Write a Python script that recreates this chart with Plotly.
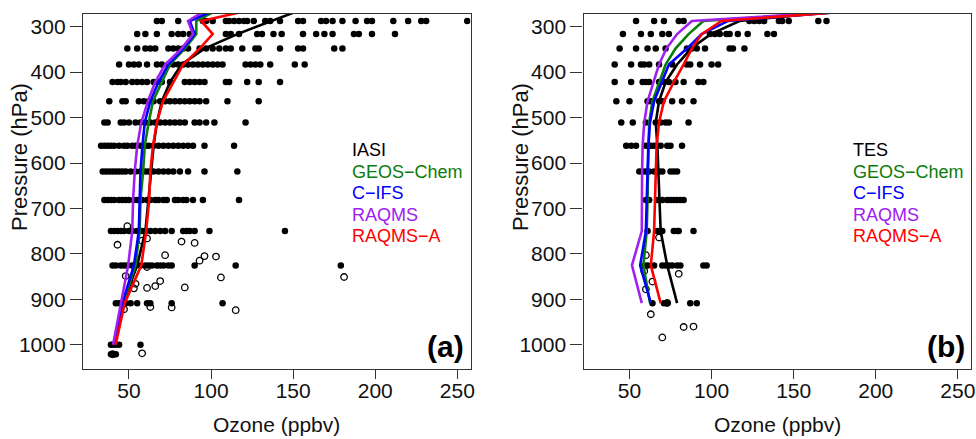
import plotly.graph_objects as go

W, H = 976, 439
FONT = "Liberation Sans, Arial, Helvetica, sans-serif"

# ---------------- data ----------------
# retrieval pressure levels (hPa)
levels = [287.3, 316.2, 348.1, 383.1, 421.7, 464.2, 510.9, 562.3, 618.9, 681.3, 749.9, 825.4, 908.5, 1000.0]
model_levels_a = [261.0] + levels
model_levels_b = [261.0] + levels[:-1]
xticks = [50, 100, 150, 200, 250]
yticks = [300, 400, 500, 600, 700, 800, 900, 1000]

# ---- panel (a): IASI ozone (ppbv) at each level ----
iasi_287 = [67, 70, 80, 95, 97, 101, 109, 111, 114, 117, 120, 122, 126, 133, 136, 142, 153, 156, 167, 170, 174, 180, 188, 195, 198, 211, 220, 228, 231, 256]
iasi_316 = [55, 60, 67, 76, 80, 83, 87, 109, 112, 117, 128, 131, 138, 143, 156, 164, 169, 174, 187, 190, 198, 212]
iasi_348 = [49, 55, 60, 63, 66, 74, 77, 80, 83, 86, 93, 97, 101, 105, 109, 112, 119, 127, 129, 142, 153, 156, 175, 180]
iasi_383 = [44, 50, 53, 56, 61, 67, 70, 74, 77, 80, 83, 86, 89, 92, 95, 98, 101, 104, 107, 121, 124, 127, 130, 136, 151, 157]
iasi_422 = [40, 43, 45, 48, 52, 55, 58, 61, 65, 67, 70, 75, 84, 87, 90, 93, 96, 109, 111, 122, 129, 142]
iasi_464 = [38, 46, 48, 56, 59, 62, 65, 69, 72, 75, 78, 81, 84, 87, 90, 93, 97, 110, 129]
iasi_511 = [35, 37, 45, 47, 50, 54, 57, 60, 63, 66, 69, 72, 75, 78, 81, 84, 90, 93, 97, 102, 121]
iasi_562 = [33, 35, 37, 39, 41, 44, 47, 49, 52, 54, 57, 60, 62, 65, 68, 71, 74, 77, 80, 83, 86, 89, 96, 114]
iasi_619 = [34, 36, 38, 40, 42, 44, 46, 48, 51, 54, 57, 60, 62, 65, 68, 71, 74, 77, 81, 86, 96, 116]
iasi_681 = [35, 37, 39, 41, 44, 46, 48, 50, 53, 55, 58, 61, 63, 66, 68, 71, 73, 78, 80, 83, 85, 89, 95, 117]
iasi_750 = [39, 41, 43, 45, 47, 50, 52, 55, 58, 60, 63, 66, 69, 72, 76, 83, 85, 87, 90, 99, 145]
iasi_825 = [40, 42, 45, 47, 49, 52, 54, 57, 60, 62, 64, 67, 69, 71, 74, 76, 90, 115, 179]
iasi_909 = [42, 44, 46, 48, 51, 55, 61, 63, 76, 107]
iasi_1000 = [39, 40, 42, 44, 57]
iasi_1021 = [39, 41, 42]
# surface-level retrievals (open circles)
iasi_sfc_o3 = [49, 43, 58, 61, 82, 90, 72, 96, 93, 103, 61, 48, 54, 53, 61, 66, 69, 84, 106, 181, 47, 63, 76, 115, 58, 40]
iasi_sfc_p = [739, 780, 771, 766, 773, 776, 803, 805, 815, 806, 829, 849, 866, 876, 875, 871, 860, 874, 852, 851, 922, 917, 918, 924, 1019, 1021]

# model / mean profiles, panel (a)
a_iasi = [156, 137, 116, 96, 82, 75, 70, 67, 65, 63.5, 62, 60, 55, 46.5, 41.5]
a_geos = [105, 91, 91, 84, 75, 70, 64.6, 62, 59.6, 58.6, 57, 56.5, 54, 46.4, 41.3]
a_cifs = [104, 87, 90, 83, 74, 68, 63, 59.6, 58.2, 57, 56.5, 56, 53, 46, 41.3]
a_raqms = [98, 86, 89, 82, 72, 66, 61.5, 57.5, 55, 53.5, 52.5, 52, 49.5, 45, 40.3]
a_raqmsa = [127, 94, 101, 93, 83, 77, 70.7, 67, 64.6, 63, 62.3, 60.5, 57.5, 47.4, 41.9]

# ---- panel (b): TES ozone (ppbv) at each level ----
tes_287 = [54, 65, 71, 80, 83, 123, 126, 129, 132, 141, 143, 147, 165, 170]
tes_316 = [46, 57, 63, 70, 74, 99, 102, 105, 109, 111, 116, 122, 134, 138]
tes_348 = [44, 54, 61, 66, 72, 85, 88, 91, 96, 111, 113, 120]
tes_383 = [41, 51, 57, 59, 62, 68, 76, 85, 87, 93, 100, 104]
tes_422 = [41, 51, 58, 60, 62, 68, 71, 74, 78, 83, 92, 95]
tes_464 = [42, 50, 61, 63, 68, 70, 76, 82, 89]
tes_511 = [45, 52, 60, 66, 69, 72, 74, 86]
tes_562 = [48, 51, 54, 60, 63, 65, 69, 73, 75, 82]
tes_619 = [56, 58, 60, 62, 65, 68, 70, 75, 77, 79]
tes_681 = [60, 62, 67, 70, 73, 75, 77, 79, 81, 83]
tes_750 = [61, 67, 69, 70, 77, 79, 80, 89]
tes_825 = [59, 61, 65, 70, 72, 74, 76, 79, 81, 95, 97]
tes_909 = [64, 71, 73, 87, 91]
tes_sfc_o3 = [68, 60, 59, 80, 64, 60, 73, 63, 83, 89, 70]
tes_sfc_p = [764, 803, 838, 844, 861, 878, 908, 933, 961, 960, 984]

b_tes = [190, 117, 99.5, 87.5, 79, 72, 68, 66, 67, 67.5, 68, 69, 73, 79]
b_geos = [206, 95, 86, 78, 72, 68, 64, 62, 61.5, 61.3, 61, 60.5, 58.5, 62.5]
b_cifs = [200, 110, 94, 85, 74, 69.5, 65, 62.5, 61.5, 61, 60.5, 60, 56.5, 63]
b_raqms = [207, 88, 79, 72.5, 68, 64.5, 61, 59, 58, 57.7, 57.5, 57.5, 51.5, 57.5]
b_raqmsa = [203, 106, 94, 88, 83, 77, 71, 68, 66.5, 66, 65.5, 65, 63, 69]

legend_names_a = ["IASI", "GEOS\u2212Chem", "C\u2212IFS", "RAQMS", "RAQMS\u2212A"]
legend_names_b = ["TES", "GEOS\u2212Chem", "C\u2212IFS", "RAQMS", "RAQMS\u2212A"]
colors = ["#000000", "#0a7d0a", "#0000ff", "#a020f0", "#ff0000"]

# ---------------- figure ----------------
def fx(px):
    return px / W

def fy(py):
    return 1 - py / H

fig = go.Figure()

def add_points(rows, xa, ya):
    xs, ys = [], []
    for p, vals in zip(levels + [1021.0], rows):
        xs += vals
        ys += [p] * len(vals)
    fig.add_trace(go.Scatter(x=xs, y=ys, mode="markers", xaxis=xa, yaxis=ya,
                             marker=dict(color="black", size=6.5, line=dict(width=0)),
                             showlegend=False, hoverinfo="skip"))

def add_open(xv, yv, xa, ya):
    fig.add_trace(go.Scatter(x=xv, y=yv, mode="markers", xaxis=xa, yaxis=ya,
                             marker=dict(symbol="circle-open", color="black", size=6.5,
                                         line=dict(width=1.3, color="black")),
                             showlegend=False, hoverinfo="skip"))

def add_line(xv, yv, col, xa, ya):
    fig.add_trace(go.Scatter(x=xv, y=yv, mode="lines", xaxis=xa, yaxis=ya,
                             line=dict(color=col, width=2.6), showlegend=False,
                             hoverinfo="skip"))

rows_a = [iasi_287, iasi_316, iasi_348, iasi_383, iasi_422, iasi_464, iasi_511, iasi_562,
          iasi_619, iasi_681, iasi_750, iasi_825, iasi_909, iasi_1000, iasi_1021]
rows_b = [tes_287, tes_316, tes_348, tes_383, tes_422, tes_464, tes_511, tes_562,
          tes_619, tes_681, tes_750, tes_825, tes_909]

add_points(rows_a, "x", "y")
add_open(iasi_sfc_o3, iasi_sfc_p, "x", "y")
for vals, c in zip([a_iasi, a_geos, a_cifs, a_raqms, a_raqmsa], colors):
    add_line(vals, model_levels_a, c, "x", "y")

add_points(rows_b, "x2", "y2")
add_open(tes_sfc_o3, tes_sfc_p, "x2", "y2")
for vals, c in zip([b_tes, b_geos, b_cifs, b_raqms, b_raqmsa], colors):
    add_line(vals, model_levels_b, c, "x2", "y2")

axcommon = dict(showline=True, linecolor="#333333", linewidth=1.3, mirror=True,
                ticks="outside", tickcolor="#333333", tickwidth=1.3, showgrid=False,
                zeroline=False, tickfont=dict(family=FONT, size=21, color="#111111"),
                automargin=False, fixedrange=True)

xdom_a = [fx(83), fx(470.5)]
xdom_b = [fx(583.5), fx(971)]
ydom = [fy(369), fy(14)]

fig.update_layout(
    width=W, height=H, margin=dict(l=0, r=0, t=0, b=0),
    paper_bgcolor="white", plot_bgcolor="white", showlegend=False,
    xaxis=dict(domain=xdom_a, range=[22, 258], tickvals=xticks, ticklen=9, anchor="y",
               ticklabelstandoff=-6, **axcommon),
    yaxis=dict(domain=ydom, range=[1053.5, 272], tickvals=yticks, ticklen=12, anchor="x", **axcommon),
    xaxis2=dict(domain=xdom_b, range=[22, 258], tickvals=xticks, ticklen=9, anchor="y2",
                ticklabelstandoff=-6, **axcommon),
    yaxis2=dict(domain=ydom, range=[1053.5, 272], tickvals=yticks, ticklen=12, anchor="x2", **axcommon),
)

ann = []
leg_y = [150, 171.5, 193, 214.5, 236]
for x0, names in [(350, legend_names_a), (851, legend_names_b)]:
    for name, c, yy in zip(names, colors, leg_y):
        ann.append(dict(x=fx(x0), y=fy(yy), xref="paper", yref="paper", text=name,
                        showarrow=False, xanchor="left", yanchor="middle",
                        font=dict(family=FONT, size=18, color=c)))
for xr, lab in [(466, "(a)"), (967, "(b)")]:
    ann.append(dict(x=fx(xr), y=fy(346), xref="paper", yref="paper", text="<b>%s</b>" % lab,
                    showarrow=False, xanchor="right", yanchor="middle",
                    font=dict(family=FONT, size=30, color="black")))
for xc in [19, 520]:
    ann.append(dict(x=fx(xc), y=fy(157), xref="paper", yref="paper", text="Pressure (hPa)",
                    showarrow=False, xanchor="center", yanchor="middle", textangle=-90,
                    font=dict(family=FONT, size=22, color="#111111")))
for xc in [276, 777]:
    ann.append(dict(x=fx(xc), y=fy(438), xref="paper", yref="paper", text="Ozone (ppbv)",
                    showarrow=False, xanchor="center", yanchor="bottom",
                    font=dict(family=FONT, size=21, color="#111111")))
fig.update_layout(annotations=ann)

fig.write_html("out.html", config={"displayModeBar": False},
               post_script="document.body.style.margin='0';document.body.style.padding='0';document.body.style.overflow='hidden';")
